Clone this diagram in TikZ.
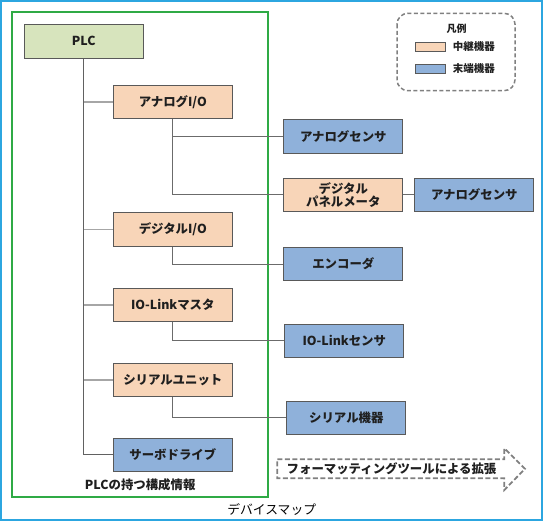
\documentclass[tikz,border=0pt]{standalone}
\usepackage{fontspec}
\setmainfont{Noto Sans CJK JP}
\begin{document}
\begin{tikzpicture}[x=1pt,y=-1pt,
  every node/.style={font=\fontsize{12.4}{14.5}\selectfont\bfseries, text=black!88},
  box/.style={draw=black!65, line width=1pt, minimum width=119pt, minimum height=33.5pt, inner sep=0pt, align=center},
  relay/.style={box, fill=relayc},
  term/.style={box, fill=termc},
  root/.style={box, fill=rootc},
  trunk/.style={draw=black!62, line width=1pt},
  branch/.style={draw=black!35, line width=1.6pt},
  child/.style={draw=black!58, line width=1pt},
  swatch/.style={draw=black!65, line width=0.8pt, minimum width=30pt, minimum height=9pt, inner sep=0pt},
  legtext/.style={font=\fontsize{10.5}{12}\selectfont\bfseries, anchor=west, inner sep=0pt}
]
\definecolor{relayc}{HTML}{F8D5B8}
\definecolor{termc}{HTML}{8FB1DA}
\definecolor{rootc}{HTML}{D7E4BD}
\definecolor{framec}{HTML}{2CA6E0}
\definecolor{greenc}{HTML}{2FAA45}
\useasboundingbox (0,0) rectangle (544,524);
% outer frame
\draw[framec, line width=2pt] (1,1) rectangle (541.5,520);
% PLC frame
\draw[greenc, line width=1.7pt] (12.3,12.3) rectangle (267.7,497.3);

% nodes
\node[root] (plc) at (83.8,41.3) {PLC};
\node[relay] (aio) at (172.8,101.8) {アナログI/O};
\node[relay] (dio) at (172.8,229.5) {デジタルI/O};
\node[relay] (iol) at (172.8,304.8) {IO-Linkマスタ};
\node[relay] (ser) at (172.8,379.8) {シリアルユニット};
\node[term] (srv) at (172.8,454.8) {サーボドライブ};

\node[term] (as1) at (343.3,136.3) {アナログセンサ};
\node[relay] (dpm) at (343.3,194.8) {デジタル\\[-1pt]パネルメータ};
\node[term] (as2) at (474.3,194.8) {アナログセンサ};
\node[term] (enc) at (343.3,264.0) {エンコーダ};
\node[term] (ios) at (344.3,340.8) {IO-Linkセンサ};
\node[term] (sdv) at (346.3,417.8) {シリアル機器};

% trunk and branches
\path[trunk] (plc.south) |- (srv.west);
\path[branch] (plc.south |- aio.west) -- (aio.west);
\path[branch] (plc.south |- dio.west) -- (dio.west);
\path[branch] (plc.south |- iol.west) -- (iol.west);
\path[branch] (plc.south |- ser.west) -- (ser.west);

% children
\path[child] (aio.south) |- (as1.west);
\path[child] (aio.south) |- (dpm.west);
\path[child] (dpm.east) -- (as2.west);
\path[child] (dio.south) |- (enc.west);
\path[child] (iol.south) |- (ios.west);
\path[child] (ser.south) |- (sdv.west);

% captions
\node (cap) at (140.2,485) {PLCの持つ構成情報};
\node[font=\fontsize{12.8}{14}\selectfont, text=black] (map) at (271.7,509.5) {デバイスマップ};

% legend
\draw[black!50, line width=1.5pt, dashed, dash pattern=on 4pt off 2.5pt, rounded corners=11pt] (397,13.3) rectangle (515,90.7);
\node[font=\fontsize{10}{12}\selectfont\bfseries] (legt) at (456.7,28.5) {凡例};
\node[swatch, fill=relayc] (sw1) at (430.5,47) {};
\node[swatch, fill=termc] (sw2) at (430.5,68.8) {};
\node[legtext] (lt1) at (452.7,47) {中継機器};
\node[legtext] (lt2) at (452.7,68.8) {末端機器};

% dashed extension arrow
\draw[black!50, line width=1.8pt, dash pattern=on 5pt off 2.5pt]
  (277.3,459.3) -- (504.3,459.3) -- (504.3,448.3) -- (525,468.8) -- (504.3,490) -- (504.3,478.3) -- (277.3,478.3) -- cycle;
\node[anchor=west, inner sep=0pt] (ext) at (286.5,468.8) {フォーマッティングツールによる拡張};
\end{tikzpicture}
\end{document}
